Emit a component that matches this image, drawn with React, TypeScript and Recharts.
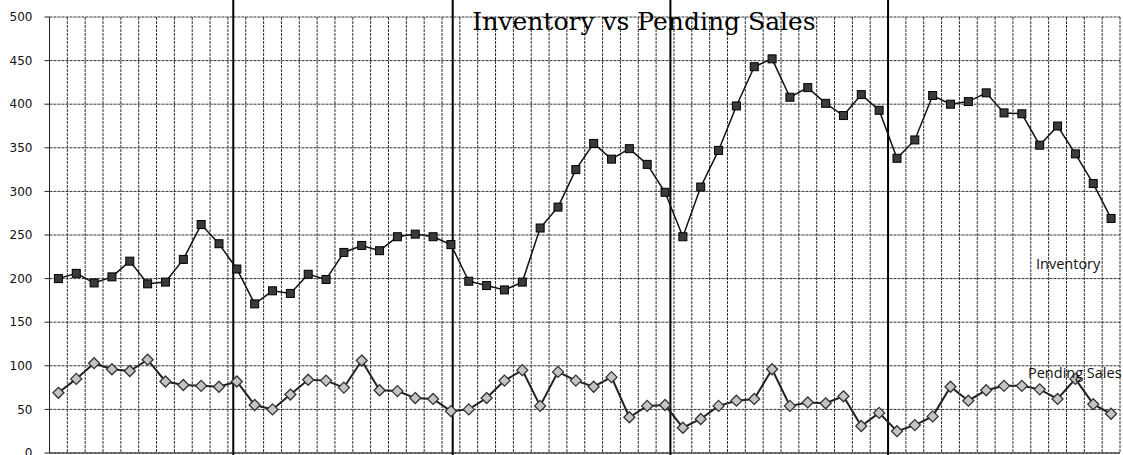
import { LineChart, Line, XAxis, YAxis, CartesianGrid, ReferenceLine } from 'recharts';

const inventory = [
  200, 206, 195, 202, 220, 194, 196, 222, 262, 240,
  211, 171, 186, 183, 205, 199, 230, 238, 232, 248,
  251, 248, 239, 197, 192, 187, 196, 258, 282, 325,
  355, 337, 349, 331, 299, 248, 305, 347, 398, 443,
  452, 408, 419, 401, 387, 411, 393, 338, 359, 410,
  400, 403, 413, 390, 389, 353, 375, 343, 309, 269,
];

const pendingSales = [
  69, 85, 103, 96, 94, 107, 82, 78, 77, 76,
  82, 55, 50, 67, 84, 83, 75, 106, 72, 71,
  63, 62, 48, 50, 63, 83, 95, 54, 93, 83,
  76, 87, 41, 54, 55, 29, 39, 54, 60, 62,
  96, 54, 58, 57, 65, 31, 46, 25, 32, 42,
  76, 60, 72, 77, 77, 73, 62, 85, 56, 45,
];

// hand-drawn year separators, in category units
const yearBreaks = [10.3, 22.6, 34.8, 47.0];

const yTicks = [0, 50, 100, 150, 200, 250, 300, 350, 400, 450, 500];

const data = inventory.map((v, i) => ({ x: i + 0.5, inventory: v, pending: pendingSales[i] }));
const edges = Array.from({ length: inventory.length + 1 }, (_, i) => i);

const SquareDot = (props: any) => {
  const { cx, cy, index } = props;
  if (cx == null || cy == null) return <g key={index} />;
  return (
    <rect key={index} x={cx - 4} y={cy - 4} width={8} height={8} fill="#3a3a3a" stroke="#000" strokeWidth={1} />
  );
};

const DiamondDot = (props: any) => {
  const { cx, cy, index } = props;
  if (cx == null || cy == null) return <g key={index} />;
  return (
    <path
      key={index}
      d={`M${cx},${cy - 5.5} L${cx + 5.5},${cy} L${cx},${cy + 5.5} L${cx - 5.5},${cy} Z`}
      fill="#c4c4c4"
      stroke="#333"
      strokeWidth={1.3}
    />
  );
};

const NoTick = () => <g />;

export default function App() {
  return (
    <div style={{ position: 'absolute', left: 0, top: 0, width: 1123, height: 470, background: '#fff' }}>
      <LineChart width={1123} height={470} data={data} margin={{ top: 17, right: 3, left: 0, bottom: 7 }}>
        <CartesianGrid stroke="#333" strokeDasharray="3 1" />
        <XAxis
          type="number"
          dataKey="x"
          domain={[0, edges.length - 1]}
          ticks={edges}
          interval={0}
          tick={NoTick}
          tickLine={false}
          height={10}
          stroke="#222"
        />
        <YAxis
          type="number"
          domain={[0, 500]}
          ticks={yTicks}
          interval={0}
          width={49.5}
          tickSize={5}
          tickMargin={12}
          stroke="#222"
          tick={{ fill: '#111', fontSize: 12, fontFamily: 'DejaVu Sans' }}
        />
        {yearBreaks.map((b) => (
          <ReferenceLine
            key={b}
            x={b}
            shape={(p: any) => <line x1={p.x1} x2={p.x2} y1={0} y2={470} stroke="#000" strokeWidth={2} />}
          />
        ))}
        <Line
          type="linear"
          dataKey="inventory"
          stroke="#111"
          strokeWidth={1.5}
          dot={SquareDot}
          activeDot={false}
          isAnimationActive={false}
        />
        <Line
          type="linear"
          dataKey="pending"
          stroke="#222"
          strokeWidth={2}
          dot={DiamondDot}
          activeDot={false}
          isAnimationActive={false}
        />
      </LineChart>
      <div
        style={{
          position: 'absolute',
          left: 444,
          top: 5,
          width: 400,
          textAlign: 'center',
          fontFamily: 'DejaVu Serif',
          fontSize: 25,
          color: '#000',
          whiteSpace: 'nowrap',
          lineHeight: '34px',
        }}
      >
        Inventory vs Pending Sales
      </div>
      <div style={{ position: 'absolute', left: 1036, top: 254, fontFamily: 'Open Sans', fontSize: 14.5, color: '#111', lineHeight: '20px' }}>
        Inventory
      </div>
      <div style={{ position: 'absolute', left: 1028, top: 363, fontFamily: 'Open Sans', fontSize: 14.5, color: '#111', lineHeight: '20px', whiteSpace: 'nowrap' }}>
        Pending Sales
      </div>
    </div>
  );
}
